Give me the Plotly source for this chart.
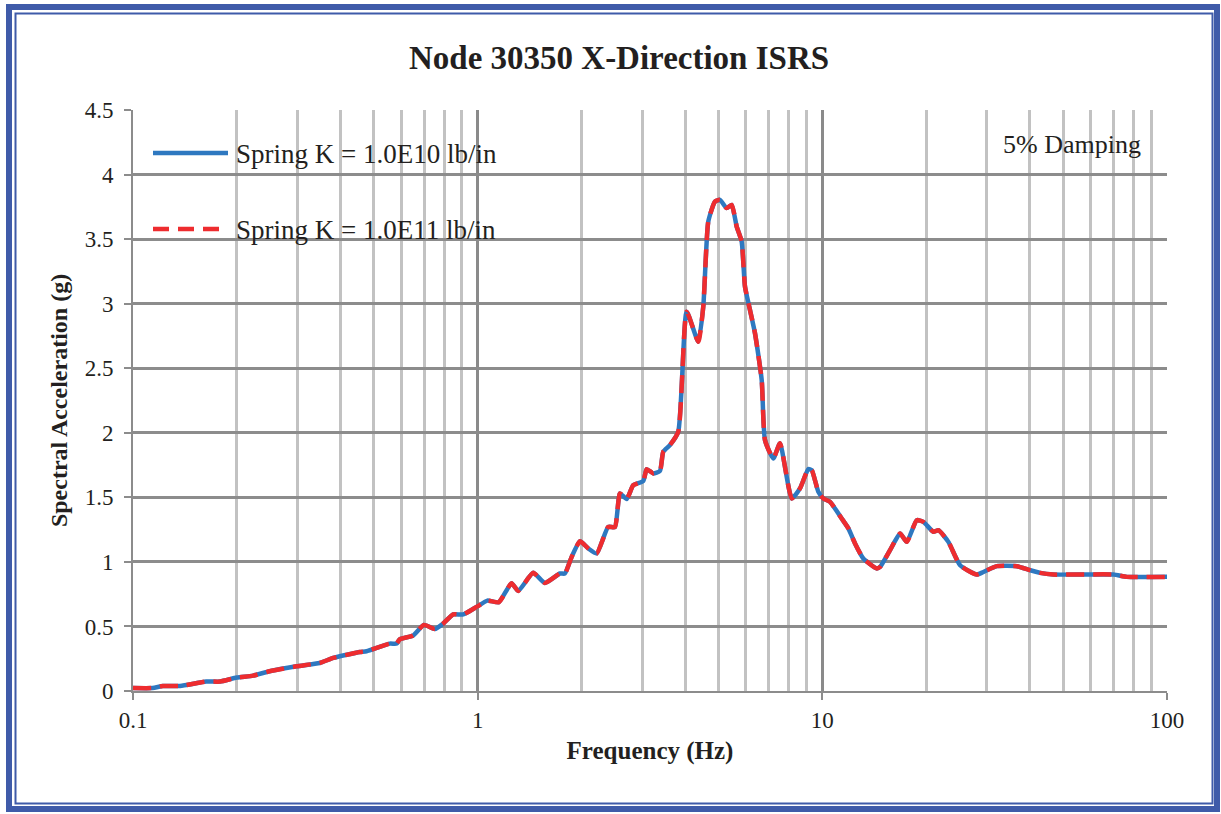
import plotly.graph_objects as go

# ---- data ----
freq_hz = [0.1, 0.114, 0.122, 0.137, 0.163, 0.179, 0.2, 0.223, 0.249, 0.298, 0.348, 0.381,
           0.455, 0.476, 0.556, 0.582, 0.594, 0.65, 0.698, 0.751, 0.794, 0.849, 0.908, 1.0,
           1.067, 1.152, 1.254, 1.311, 1.449, 1.567, 1.732, 1.791, 1.874, 1.981, 2.094, 2.214,
           2.392, 2.502, 2.587, 2.705, 2.828, 3.023, 3.093, 3.232, 3.38, 3.455, 3.613, 3.819,
           4.04, 4.366, 4.514, 4.668, 4.881, 5.047, 5.278, 5.458, 5.643, 5.834, 5.965, 6.167,
           6.377, 6.669, 6.818, 7.207, 7.536, 8.152, 8.614, 9.108, 9.318, 9.736, 10.07, 10.53,
           11.38, 11.9, 12.44, 13.15, 14.39, 14.71, 15.72, 16.81, 17.58, 18.79, 19.64, 21.0,
           21.72, 23.21, 25.1, 28.06, 29.33, 32.08, 36.66, 40.07, 42.83, 46.83, 69.95, 76.48, 100]

accel_k1e10 = [0.023, 0.023, 0.039, 0.039, 0.073, 0.073, 0.104, 0.119, 0.153, 0.191, 0.217, 0.256,
               0.302, 0.308, 0.367, 0.367, 0.40, 0.43, 0.512, 0.48, 0.522, 0.593, 0.593, 0.657,
               0.70, 0.688, 0.835, 0.775, 0.915, 0.837, 0.91, 0.91, 1.039, 1.16, 1.104, 1.065,
               1.271, 1.27, 1.53, 1.487, 1.594, 1.627, 1.718, 1.685, 1.705, 1.853, 1.905, 2.008,
               2.938, 2.705, 2.977, 3.636, 3.791, 3.804, 3.74, 3.765, 3.597, 3.481, 3.132, 2.951,
               2.771, 2.409, 1.943, 1.801, 1.918, 1.491, 1.569, 1.719, 1.711, 1.543, 1.491, 1.465,
               1.336, 1.259, 1.143, 1.026, 0.949, 0.961, 1.091, 1.22, 1.155, 1.323, 1.31, 1.233,
               1.246, 1.155, 0.974, 0.902, 0.922, 0.967, 0.967, 0.936, 0.915, 0.902, 0.902, 0.884, 0.884]

accel_k1e11 = [0.023, 0.023, 0.039, 0.039, 0.073, 0.073, 0.104, 0.119, 0.153, 0.191, 0.217, 0.256,
               0.302, 0.308, 0.367, 0.367, 0.40, 0.43, 0.512, 0.48, 0.522, 0.593, 0.593, 0.657,
               0.70, 0.688, 0.835, 0.775, 0.915, 0.837, 0.91, 0.91, 1.039, 1.16, 1.104, 1.065,
               1.271, 1.27, 1.53, 1.487, 1.594, 1.627, 1.718, 1.685, 1.705, 1.853, 1.905, 2.008,
               2.938, 2.705, 2.977, 3.636, 3.791, 3.804, 3.74, 3.765, 3.597, 3.481, 3.132, 2.951,
               2.771, 2.409, 1.943, 1.801, 1.918, 1.491, 1.569, 1.719, 1.711, 1.543, 1.491, 1.465,
               1.336, 1.259, 1.143, 1.026, 0.949, 0.961, 1.091, 1.22, 1.155, 1.323, 1.31, 1.233,
               1.246, 1.155, 0.974, 0.902, 0.922, 0.967, 0.967, 0.936, 0.915, 0.902, 0.902, 0.884, 0.884]

series_names = ["Spring K = 1.0E10 lb/in", "Spring K = 1.0E11 lb/in"]
x_tickvals = [0.1, 1, 10, 100]
x_ticktext = ["0.1", "1", "10", "100"]
x_minor_vals = [m * d for d in (0.1, 1, 10) for m in range(2, 10)]

BLUE = "#2E78C0"
RED = "#EE2C2F"
FRAME = "#3F5BA9"
TXT = "#231F20"
SERIF = "Liberation Serif, Times New Roman, serif"

fig = go.Figure()
fig.add_trace(go.Scatter(x=freq_hz, y=accel_k1e10, mode="lines", name=series_names[0],
                         line=dict(color=BLUE, width=4.5, shape="spline", smoothing=0.5),
                         showlegend=False))
fig.add_trace(go.Scatter(x=freq_hz, y=accel_k1e11, mode="lines", name=series_names[1],
                         line=dict(color=RED, width=4.5, dash="18px,9px", shape="spline", smoothing=0.5),
                         showlegend=False))

W, H = 1221, 814
L, R, T, B = 133, 54, 110, 123
pw, ph = W - L - R, H - T - B


def px(x):
    return (x - L) / pw


def py(y):
    return (H - B - y) / ph


shapes = [
    # outer double frame
    dict(type="rect", xref="paper", yref="paper", x0=px(9), x1=px(1217), y0=py(7), y1=py(809),
         line=dict(color=FRAME, width=6), layer="above"),
    dict(type="rect", xref="paper", yref="paper", x0=px(15.5), x1=px(1212.5), y0=py(13.5), y1=py(803.5),
         line=dict(color=FRAME, width=2), layer="above"),
    # legend samples
    dict(type="line", xref="paper", yref="paper", x0=px(153), x1=px(228), y0=py(153), y1=py(153),
         line=dict(color=BLUE, width=4.5), layer="above"),
    dict(type="line", xref="paper", yref="paper", x0=px(153), x1=px(228), y0=py(229), y1=py(229),
         line=dict(color=RED, width=4.5, dash="16px,9px"), layer="above"),
]

annotations = [
    dict(text=series_names[0], xref="paper", yref="paper", x=px(234), y=py(154),
         xanchor="left", yanchor="middle", showarrow=False, font=dict(family=SERIF, size=27, color=TXT)),
    dict(text=series_names[1], xref="paper", yref="paper", x=px(234), y=py(230),
         xanchor="left", yanchor="middle", showarrow=False, font=dict(family=SERIF, size=27, color=TXT)),
    dict(text="5% Damping", xref="paper", yref="paper", x=px(1143), y=py(144),
         xanchor="right", yanchor="middle", showarrow=False, font=dict(family=SERIF, size=26, color=TXT)),
]

fig.update_layout(
    width=W, height=H, autosize=False,
    margin=dict(l=L, r=R, t=T, b=B, pad=0),
    paper_bgcolor="white", plot_bgcolor="white",
    title=dict(text="<b>Node 30350 X-Direction ISRS</b>", x=0.507, xanchor="center",
               y=1 - 57 / H, yanchor="middle", font=dict(family=SERIF, size=33, color=TXT)),
    shapes=shapes, annotations=annotations,
    showlegend=False,
)

fig.update_xaxes(
    type="log", range=[-1, 2],
    tickvals=x_tickvals, ticktext=x_ticktext,
    ticks="outside", ticklen=7, tickwidth=2, tickcolor="#8C8C8C",
    showline=True, linecolor="#8C8C8C", linewidth=2,
    showgrid=True, gridcolor="#8A8A8A", gridwidth=3,
    minor=dict(tickvals=x_minor_vals, showgrid=True, gridcolor="#C2C2C2", gridwidth=2.5, ticks=""),
    tickfont=dict(family=SERIF, size=23, color=TXT),
    title=dict(text="<b>Frequency (Hz)</b>", font=dict(family=SERIF, size=25, color=TXT), standoff=10),
    zeroline=False,
)
fig.update_yaxes(
    range=[0, 4.5], dtick=0.5, tick0=0,
    ticks="outside", ticklen=7, tickwidth=2, tickcolor="#8C8C8C",
    showline=True, linecolor="#8C8C8C", linewidth=2,
    showgrid=True, gridcolor="#8C8C8C", gridwidth=2.5,
    tickfont=dict(family=SERIF, size=23, color=TXT),
    ticklabelstandoff=6,
    title=dict(text="<b>Spectral Acceleration (g)</b>", font=dict(family=SERIF, size=24, color=TXT), standoff=10),
    zeroline=False,
)

fig.write_html("out.html")
